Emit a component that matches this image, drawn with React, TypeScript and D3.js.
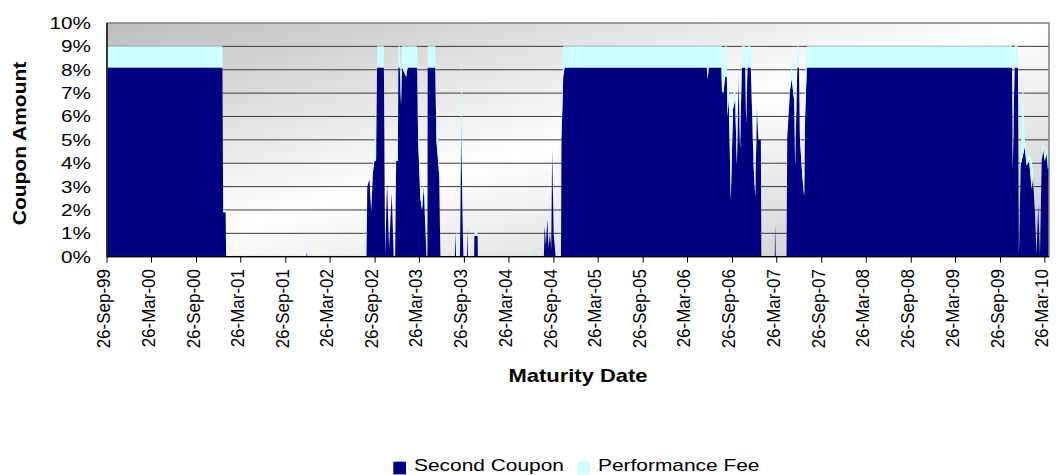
import React from "react";
import * as d3 from "d3";

// ---- data ----
const maturityDates: string[] = [
  "1999-09-26","2001-01-10","2001-01-13","2001-01-23","2001-01-25","2001-12-19","2001-12-21","2001-12-23",
  "2002-08-09","2002-08-11","2002-08-13","2002-08-22","2002-08-25","2002-09-03","2002-09-10","2002-09-17",
  "2002-09-23","2002-09-27","2002-09-30","2002-10-04","2002-11-01","2002-11-06","2002-11-14","2002-11-22",
  "2002-12-03","2002-12-11","2002-12-17","2002-12-21","2002-12-28","2002-12-30","2003-01-05","2003-01-10",
  "2003-01-14","2003-01-31","2003-02-06","2003-03-17","2003-03-21","2003-03-30","2003-04-06","2003-04-13",
  "2003-04-24","2003-04-28","2003-04-29","2003-05-30","2003-06-04","2003-06-09","2003-06-15","2003-06-20",
  "2003-07-05","2003-07-07","2003-07-09","2003-08-18","2003-08-20","2003-08-23","2003-08-26","2003-08-29",
  "2003-09-08","2003-09-13","2003-09-18","2003-09-22","2003-10-07","2003-10-09","2003-10-11","2003-11-05",
  "2003-11-06","2003-11-12","2003-11-19","2003-11-20","2004-06-18","2004-06-20","2004-06-22","2004-08-16",
  "2004-08-19","2004-08-24","2004-08-30","2004-09-04","2004-09-10","2004-09-15","2004-09-19","2004-09-25",
  "2004-10-03","2004-10-14","2004-10-16","2004-10-18","2004-10-25","2004-10-27","2004-11-03","2004-11-09",
  "2006-06-13","2006-06-17","2006-06-21","2006-08-12","2006-08-14","2006-08-20","2006-08-27","2006-09-03",
  "2006-09-06","2006-09-11","2006-09-19","2006-09-28","2006-10-07","2006-10-14","2006-10-21","2006-10-27",
  "2006-11-03","2006-11-17","2006-11-21","2006-11-26","2006-12-10","2006-12-14","2006-12-21","2006-12-28",
  "2007-01-04","2007-01-10","2007-01-20","2007-01-22","2007-03-18","2007-03-19","2007-03-20","2007-03-22",
  "2007-05-05","2007-05-08","2007-05-19","2007-05-26","2007-06-05","2007-06-09","2007-06-18","2007-06-25",
  "2007-06-29","2007-07-09","2007-07-16","2007-07-20","2007-07-27","2009-11-12","2009-11-15","2009-11-22",
  "2009-12-06","2009-12-10","2009-12-17","2009-12-26","2010-01-03","2010-01-10","2010-01-21","2010-01-31",
  "2010-02-06","2010-02-13","2010-02-20","2010-02-27","2010-03-06","2010-03-13","2010-03-19","2010-03-26",
  "2010-04-02","2010-04-08","2010-04-12",
];

const secondCoupon: number[] = [
  8.1,8.1,1.9,1.9,0,0,0.2,0,
  0,0,0,0,3.0,3.3,1.9,3.6,
  4.1,4.1,4.1,8.1,8.1,0,3.2,0.3,
  2.7,0,0,4.1,4.1,8.1,8.1,6.5,
  8.1,7.7,8.1,8.1,5.0,2.5,2.0,3.0,
  0,0,8.1,8.1,4.9,4.3,3.5,0,
  0,0,0,0,1.0,0,0,0,
  0,5.8,2.0,0,0,1.2,0,0,
  0.9,0.9,0.9,0,0,0,0,0,
  1.3,0.5,1.6,0.4,1.0,0.3,4.6,1.0,
  0,0,0,0,0,5.0,7.7,8.1,
  8.1,7.6,8.1,8.1,7.1,7.0,7.7,7.7,
  6.0,6.8,2.4,6.3,6.7,3.9,7.7,4.6,
  8.1,8.1,5.7,8.1,8.1,6.7,4.0,2.6,
  6.3,5.0,5.0,0,0,1.4,1.0,0,
  0,5.1,7.1,7.6,6.7,3.9,8.1,8.1,
  5.0,3.4,2.6,6.0,8.1,8.1,3.7,8.1,
  8.1,0.1,3.9,4.3,4.7,3.9,4.1,2.9,
  3.4,2.1,0.1,2.3,0,4.1,4.6,4.1,
  4.4,3.7,4.0,
];

const performanceFee: number[] = [
  0.9,0.9,0.1,0.1,0,0,0.8,0,
  0,2.4,0,0,0,0,0,0.3,
  0.2,2.6,0.3,0.9,0.9,0,0,0,
  0,0,0,0.2,0.3,0.9,0.9,0.5,
  0.9,1.3,0.9,0.9,0.5,1.0,0.2,0.3,
  0,0,0.9,0.9,0.6,1.7,0.3,0,
  0,0.3,0,0,0,0,1.9,0,
  0,3.2,0.2,0,0,0,0,0,
  0,0.7,0,0,0,0.8,0,0,
  0,0,0,0,0,0,0.4,0,
  0,0,0.5,0,0,0.6,1.3,0.9,
  0.9,1.4,0.9,0.9,1.9,1.0,1.3,1.3,
  1.0,0.5,2.4,0.6,0.6,0.8,0.5,0.6,
  0.9,0.9,0.5,0.9,0.9,0.4,0.3,0.6,
  0.3,0,0,0,0,0,0,0,
  0,0,0.3,0.7,0.4,0.3,0.9,0.9,
  0.5,0.4,1.0,1.5,0.9,0.9,1.0,0.9,
  0.9,0.3,0.5,3.5,0.4,0.3,0.3,1.3,
  0.3,0.3,0,0.2,0,0.3,0.3,0.2,
  0.3,0.3,0.2,
];

const xTickLabels: string[] = [
  "26-Sep-99","26-Mar-00","26-Sep-00","26-Mar-01","26-Sep-01","26-Mar-02","26-Sep-02",
  "26-Mar-03","26-Sep-03","26-Mar-04","26-Sep-04","26-Mar-05","26-Sep-05","26-Mar-06",
  "26-Sep-06","26-Mar-07","26-Sep-07","26-Mar-08","26-Sep-08","26-Mar-09","26-Sep-09","26-Mar-10",
];
const yTickValues: number[] = [0,1,2,3,4,5,6,7,8,9,10];
const seriesNames: string[] = ["Second Coupon","Performance Fee"];
const seriesColors: string[] = ["#000080","#CCFFFF"];

// ---- layout ----
const W = 1056, H = 475;
const PL = 107, PR = 1049, PT = 23, PB = 256.7;
const FONT = "'Liberation Sans', Arial, Helvetica, sans-serif";

export default function App() {
  const parse = d3.utcParse("%Y-%m-%d");
  const parseTick = d3.utcParse("%d-%b-%y");
  const rows = maturityDates.map((d, i) => ({
    date: parse(d) as Date,
    coupon: secondCoupon[i],
    fee: performanceFee[i],
  }));
  const x = d3.scaleUtc()
    .domain(d3.extent(rows, (r) => r.date) as [Date, Date])
    .range([PL, PR]);
  const y = d3.scaleLinear().domain([0, 10]).range([PB, PT]);

  const stacked = d3.stack<any>().keys(["coupon", "fee"])(rows);
  const area = d3.area<any>()
    .x((d) => x(d.data.date))
    .y0((d) => y(d[0]))
    .y1((d) => y(d[1]))
    .curve(d3.curveLinear);

  const ticks = xTickLabels.map((l) => ({ label: l, date: parseTick(l) as Date }));

  return (
    <svg width={W} height={H} style={{ position: "absolute", left: 0, top: 0 }}
      fontFamily={FONT}>
      <defs>
        <linearGradient id="bg" x1="0" y1="0" x2="1" y2="1">
          <stop offset="0" stopColor="#bdbdbd" />
          <stop offset="0.5" stopColor="#ffffff" />
          <stop offset="1" stopColor="#c4c4c4" />
        </linearGradient>
      </defs>
      <rect x={0} y={0} width={W} height={H} fill="#ffffff" />
      <rect x={PL} y={PT} width={PR - PL} height={PB - PT} fill="url(#bg)" />
      {yTickValues.slice(1, -1).map((v) => (
        <line key={v} x1={PL} x2={PR} y1={y(v)} y2={y(v)} stroke="#3a3a3a" strokeWidth={1} />
      ))}
      {stacked.map((s, i) => (
        <path key={s.key} d={area(s) as string} fill={seriesColors[i]} />
      ))}
      <rect x={PL} y={PT} width={PR - PL} height={PB - PT} fill="none" stroke="#808080" strokeWidth={1.5} />
      <line x1={PL} x2={PL} y1={PT} y2={PB} stroke="#000" strokeWidth={1.3} />
      <line x1={PL} x2={PR} y1={PB} y2={PB} stroke="#000" strokeWidth={1.3} />
      {ticks.map((t) => (
        <g key={t.label}>
          <line x1={x(t.date)} x2={x(t.date)} y1={PB} y2={PB + 6} stroke="#000" strokeWidth={1} />
          <text transform={`translate(${x(t.date) + 3},269) rotate(-90) scale(1,1.12)`} textAnchor="end"
            fontSize={17} fill="#000">{t.label}</text>
        </g>
      ))}
      {yTickValues.map((v) => (
        <text key={v} transform={`translate(91,${y(v)}) scale(1.22,1)`} textAnchor="end"
          dy="0.35em" fontSize={17} fill="#000">{`${v}%`}</text>
      ))}
      <text transform={`translate(26,143.5) rotate(-90) scale(1.2,1)`} textAnchor="middle"
        fontSize={17.5} fontWeight="bold" fill="#000">Coupon Amount</text>
      <text transform={`translate(578,382) scale(1.22,1)`} textAnchor="middle"
        fontSize={18} fontWeight="bold" fill="#000">Maturity Date</text>
      {seriesNames.map((n, i) => {
        const lx = i === 0 ? 393.3 : 577.3;
        return (
          <g key={n}>
            <rect x={lx} y={461.7} width={12.7} height={12.7} fill={seriesColors[i]} />
            <text transform={`translate(${lx + 20.7},470.5) scale(1.23,1)`} fontSize={17} fill="#000">{n}</text>
          </g>
        );
      })}
    </svg>
  );
}
